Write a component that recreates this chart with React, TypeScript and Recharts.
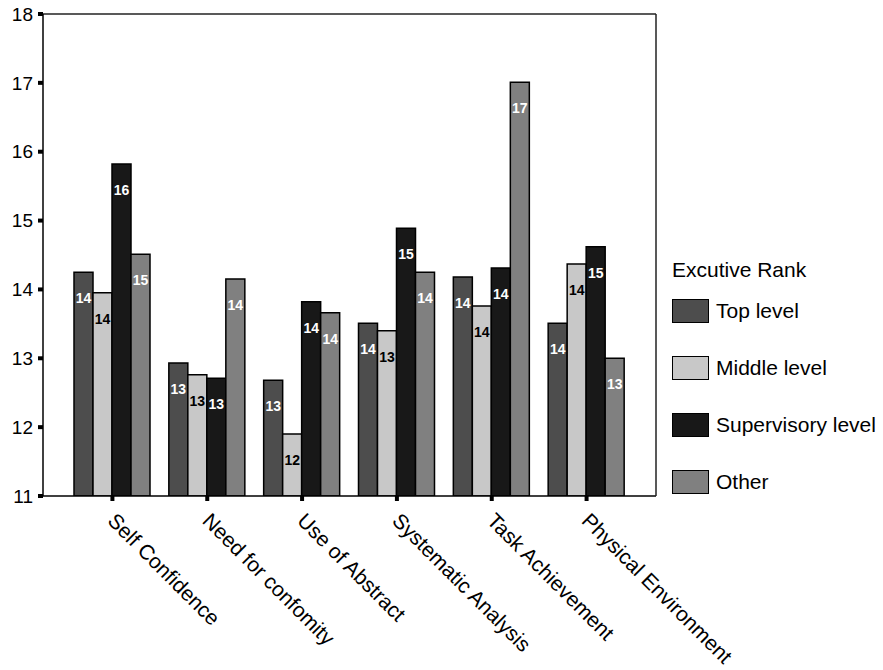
import { BarChart, Bar, XAxis, YAxis, LabelList } from 'recharts';

const categories = [
  'Self Confidence',
  'Need for confomity',
  'Use of Abstract',
  'Systematic Analysis',
  'Task Achievement',
  'Physical Environment',
];
const topLevel = [14.25, 12.93, 12.68, 13.51, 14.18, 13.51];
const middleLevel = [13.95, 12.76, 11.9, 13.4, 13.76, 14.37];
const supervisoryLevel = [15.82, 12.71, 13.82, 14.89, 14.31, 14.62];
const otherRank = [14.51, 14.15, 13.66, 14.25, 17.01, 13.0];
const yTicks = [11, 12, 13, 14, 15, 16, 17, 18];

const series = [
  { key: 'top', name: 'Top level', values: topLevel, fill: '#4d4d4d', text: '#fff' },
  { key: 'middle', name: 'Middle level', values: middleLevel, fill: '#c8c8c8', text: '#000' },
  { key: 'supervisory', name: 'Supervisory level', values: supervisoryLevel, fill: '#181818', text: '#fff' },
  { key: 'other', name: 'Other', values: otherRank, fill: '#808080', text: '#fff' },
];

const data = categories.map((name, i) => {
  const row: Record<string, string | number> = { name };
  series.forEach((s) => {
    row[s.key] = s.values[i];
  });
  return row;
});

const FONT = '"Liberation Sans", Arial, sans-serif';

const makeValueLabel = (color: string) => (props: any) => {
  const { x, y, width, value } = props;
  return (
    <text
      x={x + width / 2}
      y={y + 26}
      textAnchor="middle"
      dominantBaseline="central"
      fill={color}
      fontSize={14}
      fontWeight="bold"
      fontFamily={FONT}
    >
      {Math.round(value)}
    </text>
  );
};

function CategoryTick({ x, y, payload }: any) {
  return (
    <text
      transform={`translate(${x - 6},${y + 19}) rotate(45)`}
      fontSize={21}
      fill="#000"
      fontFamily={FONT}
    >
      {payload.value}
    </text>
  );
}

function RankLegend() {
  return (
    <div style={{ position: 'absolute', left: 672, top: 256, fontFamily: FONT, color: '#000' }}>
      <div style={{ fontSize: 21, lineHeight: '28px', marginBottom: 14 }}>Excutive Rank</div>
      {series.map((s) => (
        <div key={s.key} style={{ display: 'flex', alignItems: 'center', height: 25, marginBottom: 32 }}>
          <div
            style={{
              width: 35,
              height: 22,
              background: s.fill,
              border: '1.5px solid #000',
              marginRight: 7,
            }}
          />
          <span style={{ fontSize: 21 }}>{s.name}</span>
        </div>
      ))}
    </div>
  );
}

export default function App() {
  return (
    <div style={{ position: 'absolute', left: 0, top: 0, width: 883, height: 670, background: '#fff' }}>
      <BarChart
        width={883}
        height={670}
        data={data}
        margin={{ top: 13, right: 226, left: 0, bottom: 0 }}
        barCategoryGap={9}
        barGap={0}
      >
        <XAxis
          dataKey="name"
          height={174}
          padding={{ left: 22, right: 22 }}
          axisLine={{ stroke: '#000', strokeWidth: 1.5 }}
          tickLine={{ stroke: '#000', strokeWidth: 4 }}
          tickSize={5}
          tick={<CategoryTick />}
          interval={0}
        />
        {/* thin top/right axes close the plot frame */}
        <XAxis
          xAxisId="top"
          dataKey="name"
          orientation="top"
          height={1}
          tick={false}
          tickLine={false}
          axisLine={{ stroke: '#222', strokeWidth: 1.5 }}
        />
        <YAxis
          width={43}
          domain={[11, 18]}
          ticks={yTicks}
          allowDataOverflow
          axisLine={{ stroke: '#000', strokeWidth: 1.5 }}
          tickLine={{ stroke: '#000', strokeWidth: 4 }}
          tickSize={5}
          tickMargin={5}
          tick={{ fill: '#000', fontSize: 19, fontFamily: FONT }}
        />
        <YAxis
          yAxisId="right"
          orientation="right"
          width={1}
          domain={[11, 18]}
          tick={false}
          tickLine={false}
          axisLine={{ stroke: '#222', strokeWidth: 1.5 }}
        />
        {series.map((s) => (
          <Bar
            key={s.key}
            dataKey={s.key}
            name={s.name}
            fill={s.fill}
            stroke="#000"
            strokeWidth={1.5}
            isAnimationActive={false}
          >
            <LabelList dataKey={s.key} content={makeValueLabel(s.text)} />
          </Bar>
        ))}
      </BarChart>
      <RankLegend />
    </div>
  );
}
